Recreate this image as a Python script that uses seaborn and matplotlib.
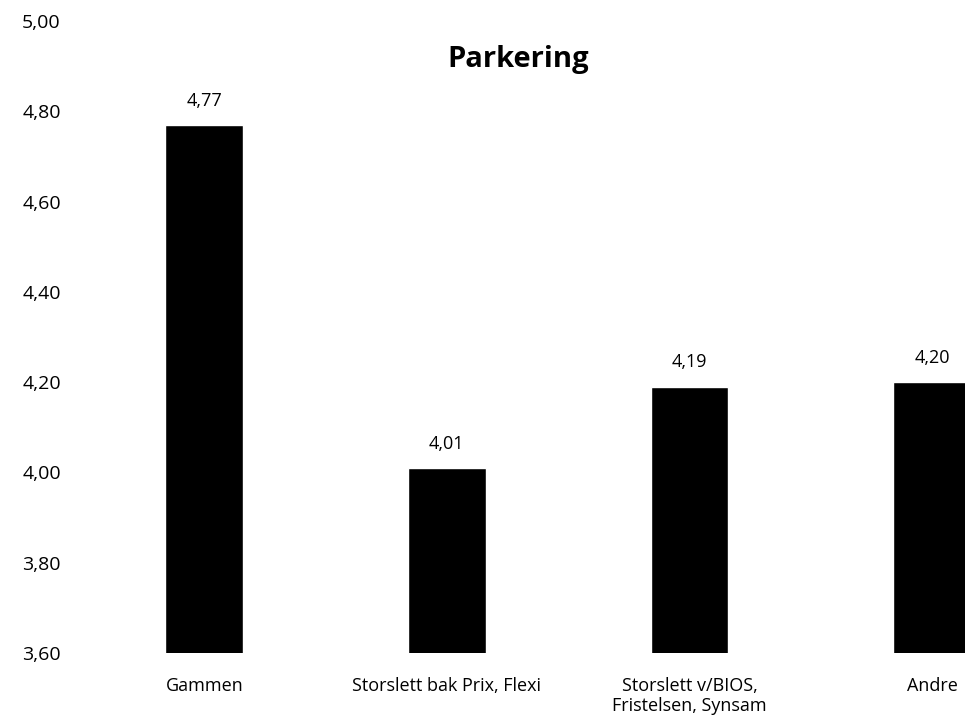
import matplotlib
matplotlib.use("Agg")
import matplotlib.pyplot as plt
import seaborn as sns
import pandas as pd

categories = ["Gammen", "Storslett bak Prix, Flexi", "Storslett v/BIOS,\nFristelsen, Synsam", "Andre"]
values = [4.77, 4.01, 4.19, 4.20]
value_labels = ["4,77", "4,01", "4,19", "4,20"]
yticks = [3.60, 3.80, 4.00, 4.20, 4.40, 4.60, 4.80, 5.00]
ytick_labels = ["3,60", "3,80", "4,00", "4,20", "4,40", "4,60", "4,80", "5,00"]
title = "Parkering"

sns.set_theme(style="white")
plt.rcParams["font.family"] = ["Open Sans", "DejaVu Sans"]

W, H = 965, 728
fig = plt.figure(figsize=(W / 100, H / 100), dpi=100)
left_px, right_px = 83, 965
bottom_px, top_px = 653, 21
ax = fig.add_axes([left_px / W, (H - bottom_px) / H, (right_px - left_px) / W, (bottom_px - top_px) / H])

df = pd.DataFrame({"cat": categories, "val": values})
sns.barplot(data=df, x="cat", y="val", color="black", saturation=1, width=0.32, ax=ax)

ax.set_ylim(3.60, 5.00)
ax.set_xlim(-0.5, 3.136)
ax.set_yticks(yticks)
ax.set_yticklabels(ytick_labels)
ax.set_xlabel("")
ax.set_ylabel("")
ax.tick_params(axis="both", length=0, labelsize=13, colors="black")
ax.tick_params(axis="y", pad=16, labelsize=14)
ax.tick_params(axis="x", pad=17)
sns.despine(ax=ax, left=True, bottom=True, top=True, right=True)
ax.grid(False)

for i, (v, t) in enumerate(zip(values, value_labels)):
    ax.annotate(t, (i, v), xytext=(0, 11), textcoords="offset points",
                ha="center", va="bottom", fontsize=13, color="black")

fig.text(518 / W, 1 - 59 / H, title, ha="center", va="center", fontsize=21, fontweight="bold", color="black")

fig.savefig("out.png", dpi=100)
